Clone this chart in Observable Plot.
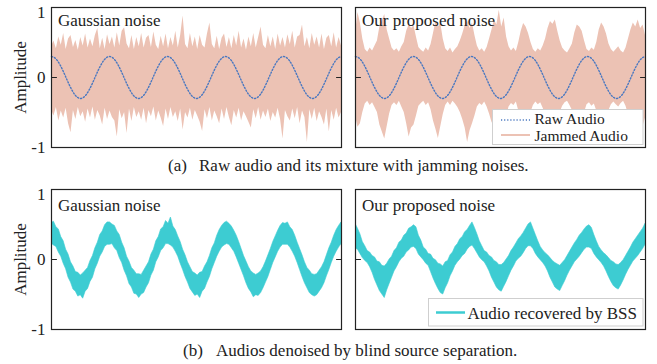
<!DOCTYPE html>
<html><head><meta charset="utf-8">
<script src="https://cdn.jsdelivr.net/npm/d3@7"></script>
<script src="https://cdn.jsdelivr.net/npm/@observablehq/plot@0.6"></script>
<style>
body{margin:0;background:#fff;}
#root{position:relative;width:657px;height:364px;overflow:hidden;background:#fff;}
.panel{position:absolute;}
</style></head>
<body><div id="root"></div>
<script>
const FONT = '"Liberation Serif","Times New Roman",Times,serif';
const INK = "#222";
const yTicks = [-1, 0, 1];
const yTickLabels = ["-1", "0", "1"];
const yLabel = "Amplitude";
const panelTitles = ["Gaussian noise", "Our proposed noise"];
const captionTags = ["(a)", "(b)"];
const captionTexts = ["Raw audio and its mixture with jamming noises.", "Audios denoised by blind source separation."];
const legendTop = ["Raw Audio", "Jammed Audio"];
const legendBottom = ["Audio recovered by BSS"];
const colors = {raw: "#4a78c0", jam: "#ecc2b4", bss: "#3dccd2"};

// raw (clean) audio
const rawAudio = [
0.30,0.285,0.243,0.176,0.093,0,-0.093,-0.176,-0.243,-0.285,-0.30,-0.285,-0.243,-0.176,-0.093,0,0.093,0.176,0.243,0.285,
0.30,0.285,0.243,0.176,0.093,0,-0.093,-0.176,-0.243,-0.285,-0.30,-0.285,-0.243,-0.176,-0.093,0,0.093,0.176,0.243,0.285,
0.30,0.285,0.243,0.176,0.093,0,-0.093,-0.176,-0.243,-0.285,-0.30,-0.285,-0.243,-0.176,-0.093,0,0.093,0.176,0.243,0.285,
0.30,0.285,0.243,0.176,0.093,0,-0.093,-0.176,-0.243,-0.285,-0.30,-0.285,-0.243,-0.176,-0.093,0,0.093,0.176,0.243,0.285,
0.30,0.285,0.243,0.176,0.093,0,-0.093,-0.176,-0.243,-0.285,-0.30,-0.285,-0.243,-0.176,-0.093,0,0.093,0.176,0.243,0.285,
0.30];

// jammed audio, Gaussian noise: upper / lower envelope
const jamGaussHi = [
0.44,0.52,0.41,0.58,0.46,0.63,0.40,0.55,0.60,0.43,
0.53,0.39,0.57,0.45,0.62,0.42,0.55,0.44,0.60,0.70,
0.41,0.56,0.40,0.61,0.47,0.58,0.42,0.64,0.45,0.66,
0.71,0.48,0.41,0.60,0.40,0.57,0.44,0.63,0.42,0.56,
0.60,0.43,0.65,0.46,0.40,0.59,0.44,0.62,0.41,0.57,
0.45,0.66,0.42,0.60,0.88,0.47,0.41,0.63,0.44,0.58,
0.40,0.60,0.46,0.42,0.62,0.78,0.47,0.41,0.59,0.40,
0.56,0.62,0.43,0.57,0.41,0.60,0.45,0.66,0.42,0.55,
0.39,0.58,0.44,0.63,0.42,0.57,0.72,0.46,0.41,0.60,
0.44,0.58,0.40,0.62,0.45,0.57,0.42,0.61,0.47,0.66,
0.42,0.58,0.60,0.75,0.44,0.57,0.41,0.63,0.46,0.58,
0.42,0.62,0.40,0.56,0.60,0.44,0.64,0.42,0.57,0.45];
const jamGaussLo = [
-0.46,-0.55,-0.43,-0.62,-0.48,-0.58,-0.44,-0.66,-0.79,-0.47,
-0.60,-0.43,-0.56,-0.49,-0.64,-0.45,-0.58,-0.42,-0.61,-0.47,
-0.55,-0.68,-0.44,-0.60,-0.48,-0.57,-0.62,-0.85,-0.46,-0.59,
-0.50,-0.80,-0.45,-0.63,-0.43,-0.57,-0.49,-0.61,-0.44,-0.66,
-0.47,-0.56,-0.42,-0.62,-0.48,-0.58,-0.70,-0.45,-0.60,-0.43,
-0.57,-0.49,-0.63,-0.45,-0.75,-0.50,-0.58,-0.44,-0.61,-0.47,
-0.55,-0.64,-0.77,-0.46,-0.59,-0.43,-0.62,-0.48,-0.56,-0.66,
-0.45,-0.60,-0.43,-0.57,-0.69,-0.47,-0.58,-0.44,-0.62,-0.49,
-0.56,-0.64,-0.72,-0.46,-0.59,-0.43,-0.61,-0.48,-0.57,-0.45,
-0.63,-0.50,-0.58,-0.44,-0.60,-0.88,-0.47,-0.56,-0.62,-0.45,
-0.59,-0.43,-0.66,-0.48,-0.57,-0.93,-0.46,-0.60,-0.44,-0.63,
-0.49,-0.57,-0.68,-0.45,-0.78,-0.47,-0.61,-0.44,-0.58,-0.50];

// jammed audio, our proposed noise: upper / lower envelope (bursty)
const jamOursHi = [
0.62,0.93,0.78,0.55,0.40,0.36, 0.42,0.38,0.45,0.52,
0.72,0.81,0.90,0.68,0.55,0.42, 0.38,0.41,0.36,0.44,0.50,
0.66,0.75,0.70,0.74,0.58,0.43, 0.39,0.36,0.42,0.38,0.47,
0.63,0.80,0.72,0.77,0.55,0.41, 0.37,0.42,0.35,0.40,0.44,0.52,
0.62,0.74,0.81,0.70,0.78,0.60,0.45, 0.38,0.41,0.36,0.43,0.55,
0.68,0.82,0.75,0.96,0.72,0.85,0.58,0.44, 0.38,0.42,0.37,0.50,
0.66,0.77,0.72,0.63,0.50,0.40, 0.36,0.41,0.38,0.45,0.55,
0.70,0.80,0.76,0.82,0.66,0.52,0.42, 0.38,0.35,0.41,0.48,
0.64,0.75,0.72,0.66,0.52,0.40, 0.37,0.42,0.39,0.50,
0.68,0.78,0.72,0.62,0.48,0.40, 0.36,0.40,0.44,0.38,0.35,0.42,
0.55,0.68,0.78,0.72,0.82,0.70,0.75,0.60];
const jamOursLo = [
-0.55,-0.71,-0.66,-0.50,-0.38,-0.34, -0.40,-0.36,-0.43,-0.50,
-0.68,-0.78,-0.88,-0.70,-0.52,-0.40, -0.36,-0.40,-0.34,-0.42,-0.50,
-0.66,-0.85,-0.72,-0.68,-0.55,-0.41, -0.37,-0.34,-0.40,-0.36,-0.46,
-0.62,-0.74,-0.87,-0.70,-0.53,-0.40, -0.35,-0.40,-0.34,-0.38,-0.43,-0.50,
-0.60,-0.72,-0.93,-0.76,-0.66,-0.55,-0.42, -0.37,-0.40,-0.35,-0.42,-0.52,
-0.64,-0.71,-0.68,-0.78,-0.66,-0.70,-0.55,-0.42, -0.37,-0.40,-0.35,-0.48,
-0.62,-0.74,-0.80,-0.64,-0.50,-0.40, -0.35,-0.39,-0.36,-0.44,-0.52,
-0.66,-0.76,-0.82,-0.72,-0.62,-0.50,-0.41, -0.36,-0.34,-0.40,-0.47,
-0.62,-0.78,-0.70,-0.64,-0.50,-0.39, -0.36,-0.41,-0.38,-0.48,
-0.64,-0.74,-0.80,-0.62,-0.47,-0.39, -0.35,-0.39,-0.42,-0.37,-0.34,-0.41,
-0.53,-0.66,-0.74,-0.70,-0.78,-0.66,-0.70,-0.58];

// audio recovered by BSS, Gaussian noise: upper / lower edge of the band
const bssGaussHi = [
0.52,0.54,0.46,0.43,0.32,0.26,0.14,0.07,-0.04,-0.10,-0.18,-0.19,-0.23,-0.20,-0.16,-0.12,-0.02,0.05,0.16,0.24,0.35,0.40,0.49,0.53,
0.53,0.50,0.48,0.40,0.35,0.24,0.16,0.04,-0.03,-0.12,-0.16,-0.21,-0.21,-0.22,-0.16,-0.10,-0.04,0.07,0.14,0.26,0.32,0.43,0.46,0.55,
0.51,0.60,0.47,0.42,0.33,0.25,0.14,0.06,-0.04,-0.11,-0.18,-0.20,-0.23,-0.19,-0.18,-0.10,-0.04,0.05,0.16,0.23,0.34,0.42,0.48,0.52,
0.54,0.51,0.47,0.41,0.34,0.25,0.15,0.05,-0.03,-0.11,-0.17,-0.20,-0.22,-0.20,-0.17,-0.11,-0.03,0.06,0.15,0.25,0.33,0.41,0.48,0.52,
0.51,0.53,0.46,0.42,0.34,0.24,0.15,0.06,-0.04,-0.12,-0.16,-0.21,-0.22,-0.21,-0.16,-0.11,-0.04,0.06,0.16,0.24,0.34,0.42,0.48,0.53];
const bssGaussLo = [
0.23,0.20,0.18,0.10,0.04,-0.06,-0.14,-0.26,-0.33,-0.43,-0.46,-0.53,-0.51,-0.56,-0.46,-0.42,-0.32,-0.26,-0.14,-0.06,0.04,0.10,0.18,0.21,
0.21,0.22,0.16,0.12,0.02,-0.05,-0.16,-0.24,-0.35,-0.40,-0.49,-0.50,-0.55,-0.50,-0.48,-0.40,-0.34,-0.23,-0.16,-0.04,0.03,0.12,0.16,0.22,
0.22,0.20,0.17,0.11,0.04,-0.06,-0.15,-0.25,-0.33,-0.42,-0.47,-0.52,-0.50,-0.55,-0.46,-0.42,-0.33,-0.25,-0.14,-0.05,0.04,0.11,0.17,0.20,
0.22,0.21,0.16,0.11,0.03,-0.06,-0.15,-0.24,-0.34,-0.42,-0.47,-0.54,-0.51,-0.52,-0.48,-0.41,-0.33,-0.25,-0.15,-0.05,0.03,0.11,0.17,0.21,
0.21,0.21,0.17,0.11,0.04,-0.05,-0.15,-0.25,-0.34,-0.41,-0.48,-0.51,-0.53,-0.51,-0.46,-0.41,-0.34,-0.24,-0.15,-0.05,0.04,0.11,0.17,0.22];

// audio recovered by BSS, our proposed noise: upper / lower edge of the band
const bssOursHi = [
0.51,0.44,0.36,0.25,0.19,0.12,0.10,0.05,0.03,-0.03,-0.04,-0.09,-0.10,-0.06,0.00,0.04,0.12,0.16,0.24,0.27,0.34,0.37,0.44,0.46,
0.49,0.46,0.34,0.27,0.17,0.14,0.08,0.07,0.01,-0.01,-0.06,-0.07,-0.10,-0.04,-0.02,0.06,0.10,0.18,0.22,0.29,0.32,0.39,0.42,0.48,
0.53,0.45,0.36,0.26,0.19,0.12,0.10,0.05,0.03,-0.02,-0.04,-0.08,-0.08,-0.05,0.00,0.05,0.12,0.17,0.23,0.29,0.33,0.38,0.44,0.50,
0.53,0.44,0.35,0.26,0.18,0.13,0.09,0.06,0.02,-0.02,-0.05,-0.07,-0.09,-0.05,-0.01,0.05,0.11,0.17,0.23,0.28,0.34,0.38,0.43,0.47,
0.49,0.45,0.35,0.26,0.18,0.13,0.09,0.06,0.02,-0.02,-0.04,-0.07,-0.08,-0.05,-0.01,0.05,0.11,0.17,0.24,0.29,0.34,0.39,0.44,0.51];
const bssOursLo = [
0.16,0.14,0.08,0.02,-0.02,-0.05,-0.11,-0.19,-0.29,-0.37,-0.45,-0.50,-0.55,-0.44,-0.35,-0.26,-0.17,-0.11,-0.04,0.01,0.04,0.10,0.13,0.17,
0.18,0.15,0.07,0.03,-0.01,-0.06,-0.09,-0.18,-0.27,-0.35,-0.42,-0.48,-0.50,-0.41,-0.34,-0.24,-0.17,-0.09,-0.04,0.00,0.05,0.08,0.14,0.18,
0.20,0.15,0.09,0.03,-0.01,-0.04,-0.10,-0.17,-0.26,-0.33,-0.40,-0.44,-0.46,-0.39,-0.32,-0.24,-0.16,-0.10,-0.03,0.01,0.04,0.09,0.15,0.19,
0.19,0.15,0.08,0.03,-0.01,-0.05,-0.10,-0.17,-0.26,-0.33,-0.40,-0.43,-0.45,-0.38,-0.31,-0.23,-0.16,-0.10,-0.04,0.00,0.04,0.09,0.14,0.17,
0.17,0.15,0.08,0.03,-0.01,-0.05,-0.10,-0.17,-0.25,-0.32,-0.38,-0.41,-0.43,-0.37,-0.30,-0.22,-0.15,-0.09,-0.03,0.01,0.05,0.10,0.15,0.21];

function lineRows(arr) { return arr.map((v, i) => ({x: i / (arr.length - 1), y: v})); }
function bandRows(hi, lo) { return hi.map((h, i) => ({x: i / (hi.length - 1), hi: h, lo: lo[i]})); }
const tickShape = {draw(ctx, l) { ctx.moveTo(0, 0); ctx.lineTo(0, -l); }};

function makePanel({showAxis, title, titleDy, marks}) {
  return Plot.plot({
    width: showAxis ? 345 : 300,
    height: 155,
    marginLeft: showAxis ? 51 : 5,
    marginRight: showAxis ? 4 : 5,
    marginTop: 7,
    marginBottom: 8,
    x: {domain: [0, 1], axis: null},
    y: {domain: [-1, 1], axis: null},
    style: {background: "transparent", fontFamily: FONT, fontSize: "17px", color: INK, overflow: "visible"},
    marks: [
      ...marks,
      Plot.text([title], {frameAnchor: "top-left", dx: 6.5, dy: titleDy, fontSize: 17, fill: INK}),
      Plot.frame({stroke: INK, strokeWidth: 1.2}),
      Plot.vector(yTicks, {y: d => d, frameAnchor: "left", rotate: 90, length: 5, anchor: "start", shape: tickShape, stroke: INK, strokeWidth: 1}),
      Plot.vector(yTicks, {y: d => d, frameAnchor: "right", rotate: -90, length: 5, anchor: "start", shape: tickShape, stroke: INK, strokeWidth: 1}),
      ...(showAxis ? [
        Plot.axisY({ticks: yTicks.slice(0, 2), tickSize: 0, tickPadding: 6, tickFormat: d => yTickLabels[yTicks.indexOf(d)], fontSize: 17, label: null, fill: INK}),
        Plot.axisY({ticks: yTicks.slice(2), tickSize: 0, tickPadding: 6, tickFormat: d => yTickLabels[yTicks.indexOf(d)], fontSize: 17, label: null, fill: INK, dy: 5}),
        Plot.text([yLabel], {frameAnchor: "left", dx: -31, rotate: -90, textAnchor: "middle", lineAnchor: "middle", fontSize: 17, fill: INK})
      ] : [])
    ]
  });
}

function jamMarks(hi, lo) {
  return [
    Plot.areaY(bandRows(hi, lo), {x: "x", y1: "lo", y2: "hi", fill: colors.jam, clip: true}),
    Plot.line(lineRows(rawAudio), {x: "x", y: "y", stroke: colors.raw, strokeWidth: 1.4, strokeDasharray: "1.2,1.9", curve: "catmull-rom"})
  ];
}
function bssMarks(hi, lo) {
  return [
    Plot.areaY(bandRows(hi, lo), {x: "x", y1: "lo", y2: "hi", fill: colors.bss, stroke: colors.bss, strokeWidth: 0.6, clip: true})
  ];
}

const root = document.getElementById("root");
const specs = [
  {left: 0, top: 0, showAxis: true, title: panelTitles[0], titleDy: 6, marks: jamMarks(jamGaussHi, jamGaussLo)},
  {left: 350, top: 0, showAxis: false, title: panelTitles[1], titleDy: 6, marks: jamMarks(jamOursHi, jamOursLo)},
  {left: 0, top: 182, showAxis: true, title: panelTitles[0], titleDy: 9.5, marks: bssMarks(bssGaussHi, bssGaussLo)},
  {left: 350, top: 182, showAxis: false, title: panelTitles[1], titleDy: 9.5, marks: bssMarks(bssOursHi, bssOursLo)}
];
for (const s of specs) {
  const div = document.createElement("div");
  div.className = "panel";
  div.style.left = s.left + "px";
  div.style.top = s.top + "px";
  div.appendChild(makePanel(s));
  root.appendChild(div);
}

// overlay: legends and captions
const svg = d3.select(root).append("svg")
  .attr("width", 657).attr("height", 364)
  .style("position", "absolute").style("left", 0).style("top", 0)
  .attr("font-family", FONT).attr("font-size", 17).attr("fill", INK);

// top legend
const lt = svg.append("g").attr("font-size", 15.5);
lt.append("rect").attr("x", 492.5).attr("y", 109.5).attr("width", 150.5).attr("height", 35).attr("fill", "#fff").attr("stroke", "#cfcfcf");
lt.append("line").attr("x1", 501).attr("x2", 530).attr("y1", 120).attr("y2", 120).attr("stroke", colors.raw).attr("stroke-width", 1.4).attr("stroke-dasharray", "1.2,1.9");
lt.append("line").attr("x1", 501).attr("x2", 530).attr("y1", 135).attr("y2", 135).attr("stroke", colors.jam).attr("stroke-width", 2);
lt.append("text").attr("x", 534.5).attr("y", 123.8).text(legendTop[0]);
lt.append("text").attr("x", 534.5).attr("y", 141.1).text(legendTop[1]);

// bottom legend
const lb = svg.append("g");
lb.append("rect").attr("x", 428.5).attr("y", 298.5).attr("width", 214.5).attr("height", 27.5).attr("fill", "#fff").attr("stroke", "#cfcfcf");
lb.append("line").attr("x1", 436).attr("x2", 465).attr("y1", 312.5).attr("y2", 312.5).attr("stroke", colors.bss).attr("stroke-width", 2.5);
lb.append("text").attr("x", 467.5).attr("y", 318.5).text(legendBottom[0]);

// captions
svg.append("text").attr("x", 168).attr("y", 171).text(captionTags[0]);
svg.append("text").attr("x", 199).attr("y", 171).text(captionTexts[0]);
svg.append("text").attr("x", 183).attr("y", 356).text(captionTags[1]);
svg.append("text").attr("x", 216).attr("y", 356).text(captionTexts[1]);
</script>
</body></html>
